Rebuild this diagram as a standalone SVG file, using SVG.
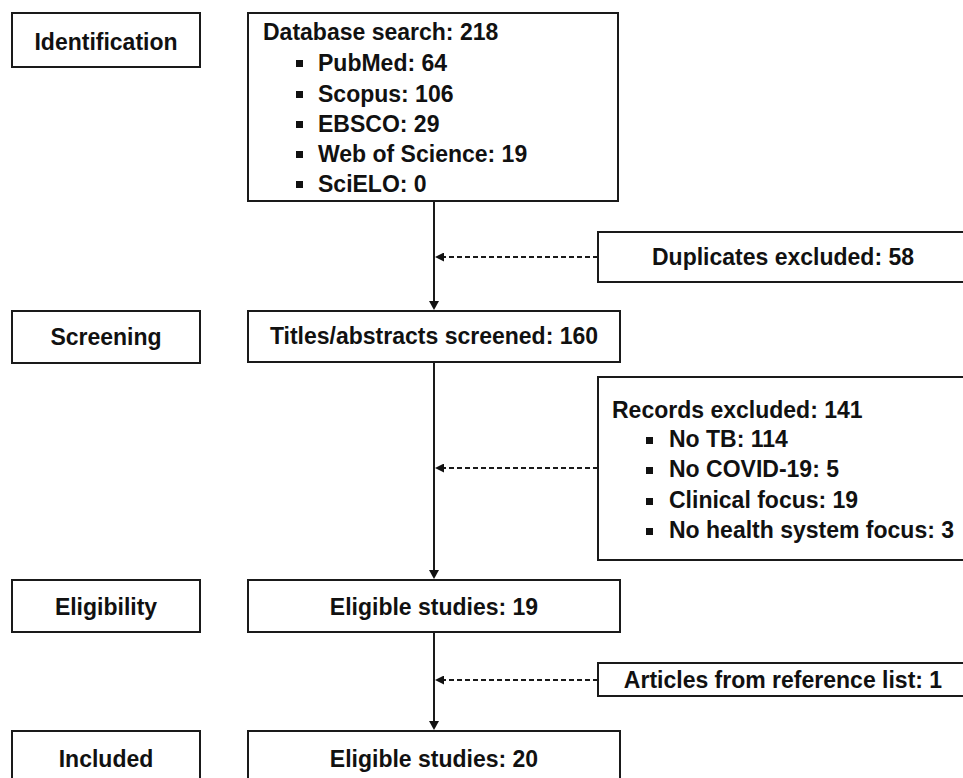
<svg xmlns="http://www.w3.org/2000/svg" width="963" height="778" viewBox="0 0 963 778">
  <style>
    .box { fill: #ffffff; stroke: #1a1a1a; stroke-width: 2; }
    .t { font-family: "Liberation Sans", Arial, sans-serif; font-weight: bold; font-size: 23px; fill: #111111; }
    .c { text-anchor: middle; }
    .bul { fill: #111111; }
    .flow { fill: none; stroke: #1a1a1a; stroke-width: 2; }
    .dash { fill: none; stroke: #1a1a1a; stroke-width: 1.8; stroke-dasharray: 5 3; }
  </style>
  <defs>
    <marker id="arrow" viewBox="0 0 9 10" refX="4" refY="5" markerWidth="9" markerHeight="10" markerUnits="userSpaceOnUse" orient="auto">
      <path d="M0,0 L9,5 L0,10 z" fill="#111111"/>
    </marker>
    <marker id="arrowSmall" viewBox="0 0 9 9" refX="3" refY="4.5" markerWidth="9" markerHeight="9" markerUnits="userSpaceOnUse" orient="auto">
      <path d="M0,0 L9,4.5 L0,9 z" fill="#111111"/>
    </marker>
  </defs>
  <rect width="963" height="778" fill="#ffffff"/>

  <g id="stage-identification">
    <rect class="box" x="12" y="13" width="188" height="54"/>
    <text class="t c" x="106" y="50">Identification</text>
  </g>
  <g id="stage-screening">
    <rect class="box" x="12" y="311" width="188" height="52"/>
    <text class="t c" x="106" y="345">Screening</text>
  </g>
  <g id="stage-eligibility">
    <rect class="box" x="12" y="580" width="188" height="52"/>
    <text class="t c" x="106" y="615">Eligibility</text>
  </g>
  <g id="stage-included">
    <rect class="box" x="12" y="731" width="188" height="54"/>
    <text class="t c" x="106" y="767">Included</text>
  </g>

  <g id="database-search">
    <rect class="box" x="248" y="13" width="370" height="188"/>
    <text class="t" x="263" y="40">Database search: 218</text>
    <rect class="bul" x="296" y="60" width="7" height="7"/>
    <text class="t" x="318" y="71">PubMed: 64</text>
    <rect class="bul" x="296" y="91" width="7" height="7"/>
    <text class="t" x="318" y="102">Scopus: 106</text>
    <rect class="bul" x="296" y="121" width="7" height="7"/>
    <text class="t" x="318" y="132">EBSCO: 29</text>
    <rect class="bul" x="296" y="151" width="7" height="7"/>
    <text class="t" x="318" y="162">Web of Science: 19</text>
    <rect class="bul" x="296" y="181" width="7" height="7"/>
    <text class="t" x="318" y="192">SciELO: 0</text>
  </g>

  <g id="duplicates-excluded">
    <rect class="box" x="598" y="232" width="368" height="50"/>
    <text class="t c" x="783" y="265">Duplicates excluded: 58</text>
  </g>

  <g id="titles-screened">
    <rect class="box" x="248" y="311" width="372" height="51"/>
    <text class="t c" x="434" y="344">Titles/abstracts screened: 160</text>
  </g>

  <g id="records-excluded">
    <rect class="box" x="598" y="377" width="368" height="183"/>
    <text class="t" x="612" y="418">Records excluded: 141</text>
    <rect class="bul" x="646" y="437" width="7" height="7"/>
    <text class="t" x="669" y="447">No TB: 114</text>
    <rect class="bul" x="646" y="467" width="7" height="7"/>
    <text class="t" x="669" y="477">No COVID-19: 5</text>
    <rect class="bul" x="646" y="498" width="7" height="7"/>
    <text class="t" x="669" y="508">Clinical focus: 19</text>
    <rect class="bul" x="646" y="528" width="7" height="7"/>
    <text class="t" x="669" y="538">No health system focus: 3</text>
  </g>

  <g id="eligible-19">
    <rect class="box" x="248" y="580" width="372" height="52"/>
    <text class="t c" x="434" y="615">Eligible studies: 19</text>
  </g>

  <g id="reference-list">
    <rect class="box" x="598" y="663" width="368" height="33"/>
    <text class="t c" x="783" y="688">Articles from reference list: 1</text>
  </g>

  <g id="eligible-20">
    <rect class="box" x="248" y="731" width="372" height="54"/>
    <text class="t c" x="434" y="767">Eligible studies: 20</text>
  </g>

  <g id="connectors">
    <path class="flow" d="M434,201 L434,305" marker-end="url(#arrow)"/>
    <path class="flow" d="M434,362 L434,574" marker-end="url(#arrow)"/>
    <path class="flow" d="M434,632 L434,725" marker-end="url(#arrow)"/>
    <path class="dash" d="M598,257 L441,257" marker-end="url(#arrowSmall)"/>
    <path class="dash" d="M598,468 L441,468" marker-end="url(#arrowSmall)"/>
    <path class="dash" d="M598,680 L441,680" marker-end="url(#arrowSmall)"/>
  </g>
</svg>
